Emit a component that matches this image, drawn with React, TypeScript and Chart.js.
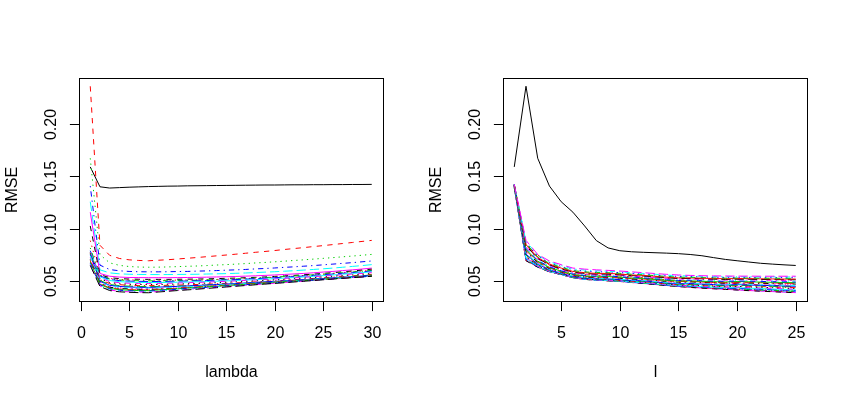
import { useEffect, useRef } from 'react'
import { Chart, registerables } from 'chart.js'

Chart.register(...registerables)

// x values of the two panels
const lambdaValues = [1, 2, 3, 4, 5, 6, 7, 8, 9, 10, 11, 12, 13, 14, 15, 16, 17, 18, 19, 20, 21, 22, 23, 24, 25, 26, 27, 28, 29, 30]
const lValues = [1, 2, 3, 4, 5, 6, 7, 8, 9, 10, 11, 12, 13, 14, 15, 16, 17, 18, 19, 20, 21, 22, 23, 24, 25]

// RMSE for each l (one array per l, values over lambda = 1..30)
const rmseL01 = [0.1590, 0.1400, 0.1388, 0.1392, 0.1396, 0.1399, 0.1402, 0.1404, 0.1406, 0.1407, 0.1409, 0.1410, 0.1411, 0.1412, 0.1413, 0.1414, 0.1415, 0.1416, 0.1417, 0.1417, 0.1418, 0.1419, 0.1419, 0.1420, 0.1420, 0.1421, 0.1421, 0.1422, 0.1422, 0.1423]
const rmseL02 = [0.2362, 0.0840, 0.0744, 0.0714, 0.0701, 0.0695, 0.0692, 0.0697, 0.0702, 0.0709, 0.0716, 0.0723, 0.0731, 0.0739, 0.0747, 0.0755, 0.0764, 0.0773, 0.0781, 0.0790, 0.0800, 0.0809, 0.0818, 0.0828, 0.0837, 0.0847, 0.0857, 0.0867, 0.0877, 0.0887]
const rmseL03 = [0.1673, 0.0750, 0.0672, 0.0648, 0.0637, 0.0632, 0.0630, 0.0631, 0.0633, 0.0636, 0.0639, 0.0642, 0.0646, 0.0651, 0.0655, 0.0660, 0.0665, 0.0671, 0.0676, 0.0682, 0.0688, 0.0695, 0.0701, 0.0708, 0.0715, 0.0722, 0.0730, 0.0737, 0.0745, 0.0753]
const rmseL04 = [0.1407, 0.0650, 0.0608, 0.0596, 0.0590, 0.0587, 0.0586, 0.0586, 0.0587, 0.0589, 0.0590, 0.0593, 0.0595, 0.0598, 0.0602, 0.0605, 0.0609, 0.0614, 0.0618, 0.0623, 0.0629, 0.0634, 0.0640, 0.0646, 0.0653, 0.0660, 0.0667, 0.0674, 0.0682, 0.0690]
const rmseL05 = [0.1257, 0.0605, 0.0576, 0.0567, 0.0563, 0.0561, 0.0560, 0.0560, 0.0560, 0.0561, 0.0562, 0.0563, 0.0565, 0.0567, 0.0569, 0.0572, 0.0575, 0.0579, 0.0583, 0.0587, 0.0592, 0.0597, 0.0603, 0.0609, 0.0615, 0.0622, 0.0630, 0.0638, 0.0646, 0.0655]
const rmseL06 = [0.1157, 0.0570, 0.0544, 0.0536, 0.0532, 0.0531, 0.0530, 0.0530, 0.0530, 0.0531, 0.0532, 0.0533, 0.0535, 0.0537, 0.0539, 0.0542, 0.0545, 0.0548, 0.0552, 0.0556, 0.0561, 0.0566, 0.0571, 0.0577, 0.0584, 0.0590, 0.0598, 0.0605, 0.0613, 0.0622]
const rmseL07 = [0.1025, 0.0559, 0.0530, 0.0521, 0.0517, 0.0515, 0.0514, 0.0514, 0.0514, 0.0515, 0.0516, 0.0517, 0.0519, 0.0521, 0.0524, 0.0526, 0.0530, 0.0533, 0.0537, 0.0542, 0.0547, 0.0552, 0.0558, 0.0564, 0.0571, 0.0578, 0.0586, 0.0594, 0.0603, 0.0612]
const rmseL08 = [0.0885, 0.0554, 0.0523, 0.0513, 0.0509, 0.0507, 0.0506, 0.0506, 0.0506, 0.0507, 0.0508, 0.0509, 0.0511, 0.0513, 0.0516, 0.0519, 0.0522, 0.0526, 0.0530, 0.0534, 0.0539, 0.0545, 0.0551, 0.0557, 0.0564, 0.0571, 0.0579, 0.0587, 0.0596, 0.0605]
const rmseL09 = [0.0815, 0.0550, 0.0518, 0.0508, 0.0503, 0.0501, 0.0500, 0.0500, 0.0501, 0.0503, 0.0504, 0.0506, 0.0509, 0.0512, 0.0515, 0.0518, 0.0522, 0.0527, 0.0531, 0.0536, 0.0541, 0.0546, 0.0552, 0.0558, 0.0564, 0.0571, 0.0578, 0.0585, 0.0592, 0.0600]
const rmseL10 = [0.0788, 0.0546, 0.0512, 0.0502, 0.0497, 0.0495, 0.0494, 0.0494, 0.0495, 0.0497, 0.0498, 0.0500, 0.0503, 0.0506, 0.0509, 0.0512, 0.0516, 0.0521, 0.0525, 0.0530, 0.0535, 0.0540, 0.0546, 0.0552, 0.0558, 0.0565, 0.0572, 0.0579, 0.0586, 0.0594]
const rmseL11 = [0.0778, 0.0538, 0.0503, 0.0492, 0.0487, 0.0485, 0.0484, 0.0484, 0.0485, 0.0487, 0.0488, 0.0491, 0.0493, 0.0496, 0.0499, 0.0503, 0.0507, 0.0511, 0.0516, 0.0521, 0.0526, 0.0531, 0.0537, 0.0543, 0.0550, 0.0556, 0.0563, 0.0571, 0.0578, 0.0586]
const rmseL12 = [0.0773, 0.0529, 0.0493, 0.0482, 0.0477, 0.0475, 0.0474, 0.0475, 0.0477, 0.0479, 0.0482, 0.0485, 0.0488, 0.0492, 0.0495, 0.0500, 0.0504, 0.0508, 0.0513, 0.0518, 0.0523, 0.0529, 0.0534, 0.0540, 0.0546, 0.0552, 0.0558, 0.0565, 0.0571, 0.0578]
const rmseL13 = [0.0769, 0.0520, 0.0484, 0.0472, 0.0467, 0.0465, 0.0464, 0.0465, 0.0467, 0.0469, 0.0472, 0.0475, 0.0478, 0.0482, 0.0486, 0.0490, 0.0494, 0.0499, 0.0504, 0.0509, 0.0514, 0.0520, 0.0526, 0.0531, 0.0537, 0.0544, 0.0550, 0.0556, 0.0563, 0.0570]
const rmseL14 = [0.0765, 0.0511, 0.0474, 0.0463, 0.0457, 0.0455, 0.0454, 0.0455, 0.0457, 0.0459, 0.0462, 0.0465, 0.0468, 0.0472, 0.0476, 0.0480, 0.0485, 0.0490, 0.0495, 0.0500, 0.0505, 0.0511, 0.0517, 0.0523, 0.0529, 0.0535, 0.0542, 0.0548, 0.0555, 0.0562]
const rmseL15 = [0.0760, 0.0503, 0.0465, 0.0454, 0.0449, 0.0446, 0.0445, 0.0446, 0.0448, 0.0450, 0.0453, 0.0456, 0.0460, 0.0464, 0.0468, 0.0472, 0.0477, 0.0482, 0.0487, 0.0492, 0.0498, 0.0503, 0.0509, 0.0516, 0.0522, 0.0528, 0.0535, 0.0542, 0.0549, 0.0556]
const rmseL16 = [0.0752, 0.0495, 0.0457, 0.0446, 0.0441, 0.0438, 0.0437, 0.0440, 0.0443, 0.0447, 0.0451, 0.0455, 0.0460, 0.0465, 0.0469, 0.0474, 0.0479, 0.0485, 0.0490, 0.0495, 0.0500, 0.0506, 0.0511, 0.0517, 0.0523, 0.0528, 0.0534, 0.0540, 0.0546, 0.0552]
const rmseL17 = [0.0740, 0.0489, 0.0451, 0.0439, 0.0434, 0.0431, 0.0430, 0.0433, 0.0436, 0.0440, 0.0445, 0.0449, 0.0454, 0.0459, 0.0464, 0.0469, 0.0474, 0.0479, 0.0485, 0.0490, 0.0496, 0.0501, 0.0507, 0.0513, 0.0519, 0.0525, 0.0531, 0.0537, 0.0543, 0.0549]
const rmseL18 = [0.0722, 0.0483, 0.0445, 0.0433, 0.0428, 0.0425, 0.0424, 0.0427, 0.0431, 0.0435, 0.0439, 0.0444, 0.0449, 0.0454, 0.0459, 0.0464, 0.0469, 0.0475, 0.0480, 0.0486, 0.0492, 0.0498, 0.0504, 0.0510, 0.0516, 0.0522, 0.0528, 0.0534, 0.0541, 0.0547]
const rmseL19 = [0.0705, 0.0478, 0.0439, 0.0427, 0.0422, 0.0419, 0.0418, 0.0421, 0.0425, 0.0429, 0.0434, 0.0439, 0.0444, 0.0449, 0.0454, 0.0460, 0.0465, 0.0471, 0.0477, 0.0483, 0.0489, 0.0495, 0.0501, 0.0507, 0.0513, 0.0520, 0.0526, 0.0533, 0.0539, 0.0546]
const rmseL20 = [0.0692, 0.0472, 0.0433, 0.0421, 0.0416, 0.0413, 0.0412, 0.0418, 0.0424, 0.0429, 0.0435, 0.0441, 0.0447, 0.0452, 0.0458, 0.0464, 0.0470, 0.0476, 0.0481, 0.0487, 0.0493, 0.0499, 0.0504, 0.0510, 0.0516, 0.0522, 0.0527, 0.0533, 0.0539, 0.0545]
const rmseL21 = [0.0680, 0.0466, 0.0427, 0.0415, 0.0410, 0.0407, 0.0406, 0.0412, 0.0418, 0.0424, 0.0430, 0.0436, 0.0442, 0.0448, 0.0454, 0.0460, 0.0466, 0.0472, 0.0478, 0.0485, 0.0491, 0.0497, 0.0503, 0.0509, 0.0515, 0.0521, 0.0527, 0.0533, 0.0539, 0.0545]
const rmseL22 = [0.0668, 0.0461, 0.0422, 0.0410, 0.0405, 0.0402, 0.0401, 0.0407, 0.0413, 0.0420, 0.0426, 0.0432, 0.0438, 0.0445, 0.0451, 0.0457, 0.0463, 0.0469, 0.0476, 0.0482, 0.0488, 0.0494, 0.0501, 0.0507, 0.0513, 0.0519, 0.0525, 0.0532, 0.0538, 0.0544]
const rmseL23 = [0.0660, 0.0456, 0.0417, 0.0405, 0.0400, 0.0397, 0.0396, 0.0402, 0.0409, 0.0415, 0.0422, 0.0428, 0.0435, 0.0441, 0.0447, 0.0454, 0.0460, 0.0467, 0.0473, 0.0480, 0.0486, 0.0492, 0.0499, 0.0505, 0.0512, 0.0518, 0.0525, 0.0531, 0.0538, 0.0544]
const rmseL24 = [0.0653, 0.0451, 0.0412, 0.0400, 0.0395, 0.0392, 0.0391, 0.0398, 0.0404, 0.0411, 0.0418, 0.0424, 0.0431, 0.0438, 0.0444, 0.0451, 0.0458, 0.0464, 0.0471, 0.0477, 0.0484, 0.0491, 0.0497, 0.0504, 0.0511, 0.0517, 0.0524, 0.0531, 0.0537, 0.0544]
const rmseL25 = [0.0647, 0.0446, 0.0407, 0.0395, 0.0390, 0.0387, 0.0386, 0.0393, 0.0400, 0.0407, 0.0413, 0.0420, 0.0427, 0.0434, 0.0441, 0.0448, 0.0455, 0.0462, 0.0469, 0.0475, 0.0482, 0.0489, 0.0496, 0.0503, 0.0510, 0.0517, 0.0524, 0.0530, 0.0537, 0.0544]

const rmseByL = [
  rmseL01, rmseL02, rmseL03, rmseL04, rmseL05, rmseL06, rmseL07, rmseL08, rmseL09, rmseL10,
  rmseL11, rmseL12, rmseL13, rmseL14, rmseL15, rmseL16, rmseL17, rmseL18, rmseL19, rmseL20,
  rmseL21, rmseL22, rmseL23, rmseL24, rmseL25,
]

// axis ticks
const lambdaTicks = [0, 5, 10, 15, 20, 25, 30]
const lTicks = [5, 10, 15, 20, 25]
const rmseTicks = [0.05, 0.1, 0.15, 0.2]
const rmseTickLabels = ['0.05', '0.10', '0.15', '0.20']

// R matplot defaults: col = 1:6, lty = 1:5
const palette = ['#000000', '#FF0000', '#00CD00', '#0000FF', '#00FFFF', '#FF00FF']
const dashes = [[], [5.3, 5.3], [1.3, 4], [1.3, 4, 5.3, 4], [9.3, 4]]

const FONT = '16px "Liberation Sans", Arial, Helvetica, sans-serif'

// R pads the data range by 4% on each side
const padRange = (lo: number, hi: number) => {
  const d = (hi - lo) * 0.04
  return [lo - d, hi + d]
}
const allValues = rmseByL.flat()
const [yMin, yMax] = padRange(Math.min(...allValues), Math.max(...allValues))

// draws the R style box, ticks, tick labels and axis titles
const rAxes = {
  id: 'rAxes',
  afterDraw(chart: any, _args: any, opts: any) {
    const { ctx, chartArea: a, scales } = chart
    const xs = scales.x
    const ys = scales.y
    const L = Math.round(a.left) + 0.5
    const R = Math.round(a.right) + 0.5
    const T = Math.round(a.top) + 0.5
    const B = Math.round(a.bottom) + 0.5
    ctx.save()
    ctx.strokeStyle = '#000'
    ctx.lineWidth = 1
    ctx.setLineDash([])
    ctx.strokeRect(L, T, R - L, B - T)

    ctx.fillStyle = '#000'
    ctx.font = FONT
    ctx.textBaseline = 'alphabetic'
    ctx.textAlign = 'center'

    // x axis
    const xp = opts.xTicks.map((v: number) => Math.round(xs.getPixelForValue(v)) + 0.5)
    ctx.beginPath()
    ctx.moveTo(xp[0], B)
    ctx.lineTo(xp[xp.length - 1], B)
    xp.forEach((p: number) => {
      ctx.moveTo(p, B)
      ctx.lineTo(p, B + 9.6)
    })
    ctx.stroke()
    opts.xTicks.forEach((v: number, i: number) => {
      ctx.fillText(String(v), xp[i], B + 36)
    })
    ctx.fillText(opts.xTitle, (L + R) / 2, B + 75.5)

    // y axis
    const yp = rmseTicks.map(v => Math.round(ys.getPixelForValue(v)) + 0.5)
    ctx.beginPath()
    ctx.moveTo(L, yp[0])
    ctx.lineTo(L, yp[yp.length - 1])
    yp.forEach(p => {
      ctx.moveTo(L, p)
      ctx.lineTo(L - 9.6, p)
    })
    ctx.stroke()
    rmseTickLabels.forEach((t, i) => {
      ctx.save()
      ctx.translate(L - 24, yp[i])
      ctx.rotate(-Math.PI / 2)
      ctx.fillText(t, 0, 0)
      ctx.restore()
    })
    ctx.save()
    ctx.translate(L - 63, (T + B) / 2)
    ctx.rotate(-Math.PI / 2)
    ctx.fillText('RMSE', 0, 0)
    ctx.restore()

    ctx.restore()
  },
}

type Series = { x: number[]; y: number[] }

interface PanelProps {
  series: Series[]
  xRange: number[]
  xTicks: number[]
  xTitle: string
  left: number
}

function MatPlot({ series, xRange, xTicks, xTitle, left }: PanelProps) {
  const canvasRef = useRef<HTMLCanvasElement>(null)

  useEffect(() => {
    if (!canvasRef.current) return
    const [xMin, xMax] = padRange(xRange[0], xRange[1])
    const chart = new Chart(canvasRef.current, {
      type: 'line',
      data: {
        datasets: series.map((s, i) => ({
          data: s.x.map((x, j) => ({ x, y: s.y[j] })),
          borderColor: palette[i % 6],
          borderDash: dashes[i % 5],
          borderWidth: 1,
          pointRadius: 0,
          tension: 0,
          fill: false,
          order: -i,
        })),
      },
      options: {
        animation: false,
        responsive: false,
        events: [],
        layout: { padding: { left: 79, top: 78, right: 41, bottom: 99 } },
        scales: {
          x: { type: 'linear', min: xMin, max: xMax, display: false },
          y: { type: 'linear', min: yMin, max: yMax, display: false },
        },
        plugins: {
          legend: { display: false },
          tooltip: { enabled: false },
          rAxes: { xTicks, xTitle },
        } as any,
      },
      plugins: [rAxes],
    })
    return () => chart.destroy()
  }, [series, xRange, xTicks, xTitle])

  return (
    <canvas
      ref={canvasRef}
      width={424}
      height={400}
      style={{ position: 'absolute', left, top: 0, width: 424, height: 400 }}
    />
  )
}

// left: one line per l over lambda; right: one line per lambda over l
const leftSeries = rmseByL.map(col => ({ x: lambdaValues, y: col }))
const rightSeries = lambdaValues.map((_, j) => ({ x: lValues, y: rmseByL.map(col => col[j]) }))

export default function App() {
  return (
    <div style={{ position: 'absolute', left: 0, top: 0, width: 848, height: 400, background: '#fff' }}>
      <MatPlot series={leftSeries} xRange={[1, 30]} xTicks={lambdaTicks} xTitle="lambda" left={0} />
      <MatPlot series={rightSeries} xRange={[1, 25]} xTicks={lTicks} xTitle="l" left={424} />
    </div>
  )
}
